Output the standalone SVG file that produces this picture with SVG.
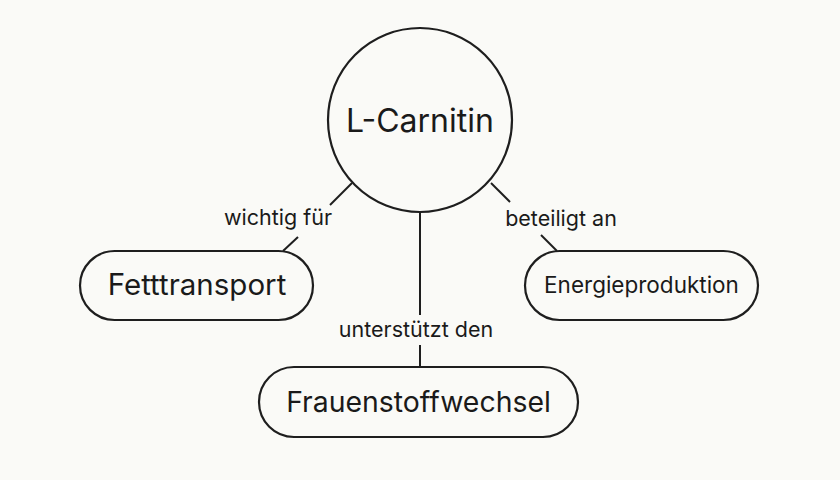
<svg xmlns="http://www.w3.org/2000/svg" width="840" height="480" viewBox="0 0 840 480">
<style>
.node{fill:none;stroke:#1e1e1e;stroke-width:2.2}
.edge{stroke:#1e1e1e;stroke-width:2;fill:none}
text{font-family:Inter,"Liberation Sans",sans-serif;fill:#1a1a1a;text-anchor:middle}
.lbl{font-size:21.5px}
</style>
<rect width="840" height="480" fill="#fafaf7"/>
<g id="connectors">
<line class="edge" x1="352" y1="183" x2="330" y2="205"/>
<line class="edge" x1="298" y1="237" x2="283" y2="251"/>
<line class="edge" x1="491" y1="183" x2="510" y2="202"/>
<line class="edge" x1="541" y1="235" x2="557" y2="251"/>
<line class="edge" x1="420" y1="212" x2="420" y2="315"/>
<line class="edge" x1="420" y1="345" x2="420" y2="367"/>
<text class="lbl" x="278" y="225">wichtig für</text>
<text class="lbl" x="561" y="226">beteiligt an</text>
<text class="lbl" x="416" y="337">unterstützt den</text>
</g>
<g id="lcarnitin">
<circle class="node" cx="420" cy="120" r="92"/>
<text x="420" y="132" font-size="32">L-Carnitin</text>
</g>
<g id="fetttransport">
<rect class="node" x="80" y="251" width="233" height="69" rx="34.5"/>
<text x="197" y="295" font-size="29.5">Fetttransport</text>
</g>
<g id="energieproduktion">
<rect class="node" x="525" y="251" width="233" height="69" rx="34.5"/>
<text x="641.5" y="293" font-size="22.5">Energieproduktion</text>
</g>
<g id="frauenstoffwechsel">
<rect class="node" x="259" y="367" width="319" height="70" rx="35"/>
<text x="418.5" y="412" font-size="28.4">Frauenstoffwechsel</text>
</g>
</svg>
